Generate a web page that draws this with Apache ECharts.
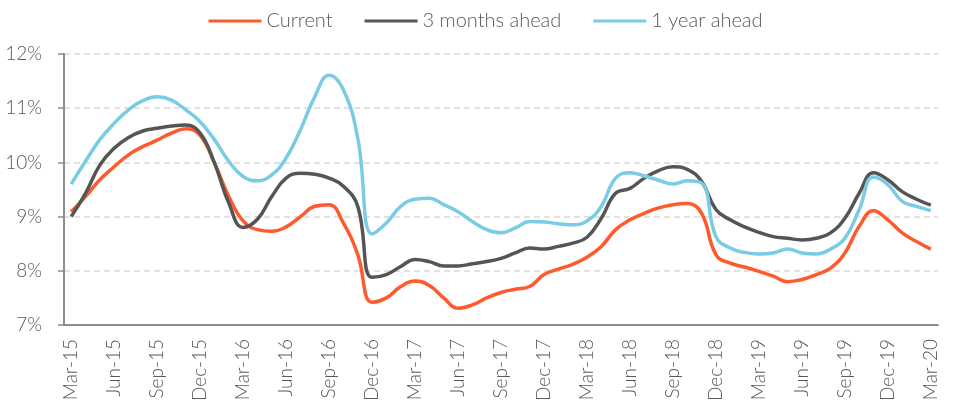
<!DOCTYPE html>
<html>
<head>
<meta charset="utf-8">
<script src="https://cdn.jsdelivr.net/npm/echarts@6/dist/echarts.min.js"></script>
<style>
  html, body { margin: 0; padding: 0; background: #fff; }
  #chart { width: 971px; height: 411px; }
</style>
</head>
<body>
<div id="chart"></div>
<script>
// monthly categories, Mar-15 .. Mar-20
const months = [
  'Mar-15','Apr-15','May-15','Jun-15','Jul-15','Aug-15','Sep-15','Oct-15','Nov-15','Dec-15','Jan-16','Feb-16',
  'Mar-16','Apr-16','May-16','Jun-16','Jul-16','Aug-16','Sep-16','Oct-16','Nov-16','Dec-16','Jan-17','Feb-17',
  'Mar-17','Apr-17','May-17','Jun-17','Jul-17','Aug-17','Sep-17','Oct-17','Nov-17','Dec-17','Jan-18','Feb-18',
  'Mar-18','Apr-18','May-18','Jun-18','Jul-18','Aug-18','Sep-18','Oct-18','Nov-18','Dec-18','Jan-19','Feb-19',
  'Mar-19','Apr-19','May-19','Jun-19','Jul-19','Aug-19','Sep-19','Oct-19','Nov-19','Dec-19','Jan-20','Feb-20',
  'Mar-20'
];

const current = [
  9.09, 9.37, 9.68, 9.92, 10.14, 10.29, 10.41, 10.54, 10.62, 10.50, 9.99, 9.37,
  8.92, 8.76, 8.73, 8.81, 9.00, 9.19, 9.22, 8.88, 8.30, 7.42, 7.50, 7.71,
  7.81, 7.73, 7.50, 7.31, 7.37, 7.50, 7.60, 7.66, 7.71, 7.93, 8.03, 8.12,
  8.25, 8.45, 8.76, 8.94, 9.06, 9.16, 9.22, 9.24, 9.06, 8.30, 8.14, 8.07,
  7.99, 7.90, 7.80, 7.84, 7.93, 8.05, 8.33, 8.82, 9.11, 8.94, 8.70, 8.54,
  8.40
];

const threeMonths = [
  9.00, 9.43, 9.95, 10.26, 10.46, 10.58, 10.63, 10.67, 10.69, 10.54, 9.99, 9.25,
  8.80, 8.95, 9.37, 9.71, 9.80, 9.78, 9.71, 9.56, 9.19, 7.88, 7.93, 8.08,
  8.21, 8.17, 8.09, 8.09, 8.13, 8.17, 8.23, 8.33, 8.42, 8.40, 8.45, 8.51,
  8.62, 8.97, 9.43, 9.52, 9.71, 9.85, 9.92, 9.87, 9.65, 9.13, 8.94, 8.81,
  8.71, 8.63, 8.60, 8.57, 8.60, 8.70, 8.97, 9.43, 9.81, 9.68, 9.46, 9.32,
  9.21
];

const oneYear = [
  9.60, 10.02, 10.42, 10.72, 10.97, 11.14, 11.21, 11.15, 10.97, 10.75, 10.42, 10.02,
  9.74, 9.66, 9.77, 10.08, 10.60, 11.21, 11.61, 11.34, 10.45, 8.68, 8.88, 9.19,
  9.32, 9.34, 9.22, 9.09, 8.91, 8.76, 8.70, 8.79, 8.91, 8.90, 8.87, 8.85,
  8.92, 9.19, 9.71, 9.81, 9.75, 9.67, 9.60, 9.66, 9.62, 8.63, 8.42, 8.34,
  8.31, 8.33, 8.40, 8.33, 8.31, 8.40, 8.60, 9.13, 9.73, 9.59, 9.28, 9.19,
  9.11
];

const seriesNames = ['Current', '3 months ahead', '1 year ahead'];
const colors = ['#ff5a2c', '#555555', '#7acce4'];

const FONT = 'Lato, "Noto Sans", sans-serif';
const TEXT = '#595959';
const AXIS = '#8c8c8c';

const chart = echarts.init(document.getElementById('chart'));

const line = (name, data, color) => ({
  name: name,
  type: 'line',
  data: data,
  smooth: 0.45,
  showSymbol: false,
  symbol: 'none',
  lineStyle: { color: color, width: 3.5 },
  itemStyle: { color: color },
  emphasis: { disabled: true }
});

chart.setOption({
  animation: false,
  color: colors,
  textStyle: { fontFamily: FONT },
  legend: {
    top: 6,
    left: 'center',
    icon: 'rect',
    itemWidth: 53,
    itemHeight: 3,
    itemGap: 32,
    textStyle: { fontFamily: FONT, fontSize: 20, color: TEXT, fontWeight: 300 },
    data: seriesNames
  },
  grid: { left: 64, right: 33, top: 54, bottom: 86 },
  xAxis: {
    type: 'category',
    data: months,
    boundaryGap: true,
    axisLine: { lineStyle: { color: AXIS, width: 2 } },
    axisTick: { interval: 2, length: 7, lineStyle: { color: AXIS, width: 1.5 } },
    axisLabel: {
      interval: 2,
      rotate: 90,
      margin: 14,
      fontFamily: FONT,
      fontSize: 19,
      fontWeight: 300,
      color: TEXT
    },
    splitLine: { show: false }
  },
  yAxis: {
    type: 'value',
    min: 7,
    max: 12,
    interval: 1,
    axisLine: { show: true, lineStyle: { color: AXIS, width: 2 } },
    axisTick: { show: true, length: 6, lineStyle: { color: AXIS, width: 1.5 } },
    axisLabel: {
      formatter: '{value}%',
      margin: 22,
      fontFamily: FONT,
      fontSize: 19,
      fontWeight: 300,
      color: TEXT
    },
    splitLine: { lineStyle: { color: '#d9d9d9', width: 1.5, type: [6, 4] } }
  },
  series: [
    line(seriesNames[0], current, colors[0]),
    line(seriesNames[1], threeMonths, colors[1]),
    line(seriesNames[2], oneYear, colors[2])
  ]
});
</script>
</body>
</html>
